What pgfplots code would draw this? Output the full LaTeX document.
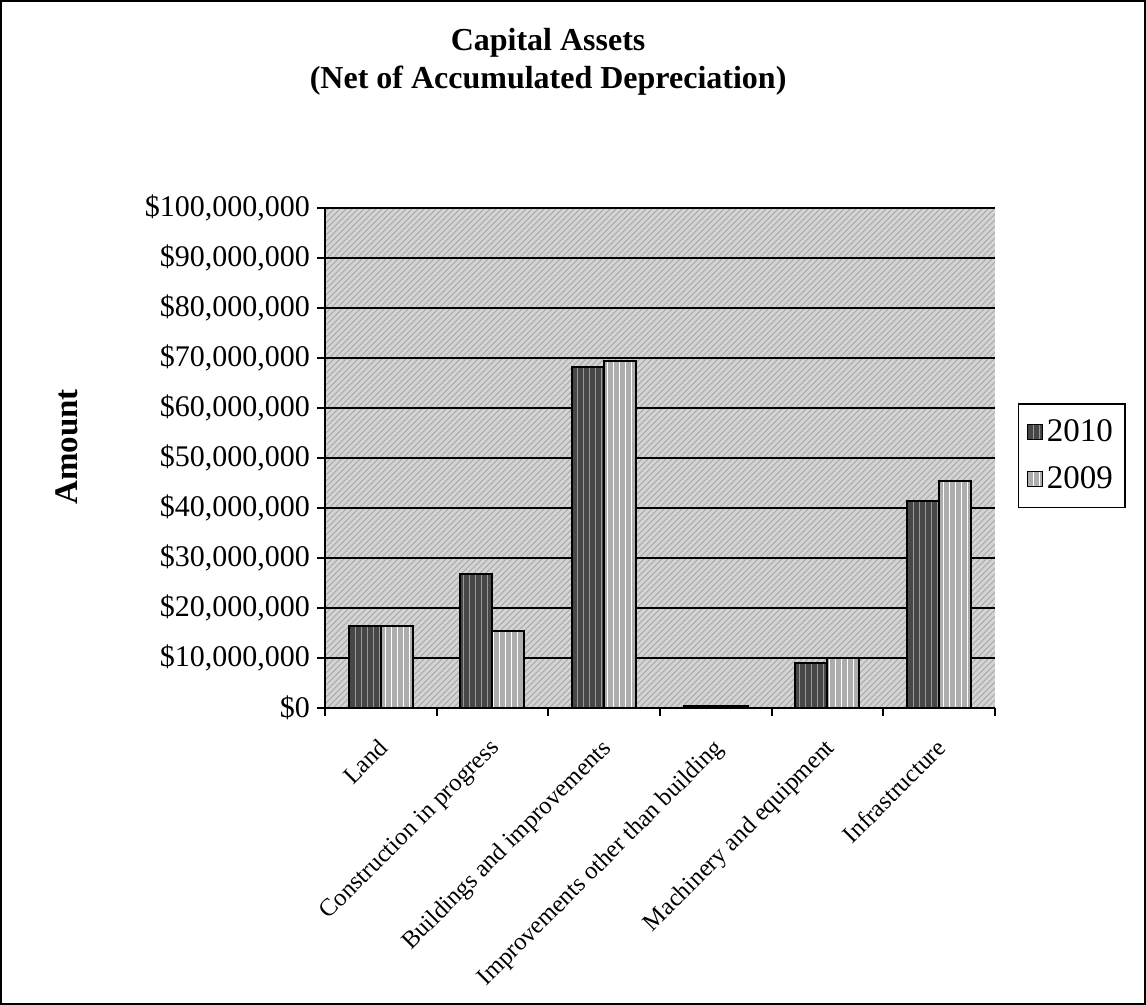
\documentclass[border=0pt]{standalone}
\usepackage{fontspec}
\setmainfont{Liberation Serif}
\usepackage{pgfplots}
\pgfplotsset{compat=1.18}
\usetikzlibrary{patterns}

\pgfplotstableread{
idx y2010 y2009
0 16.3 16.3
1 26.8 15.4
2 68.2 69.3
3 0.4 0.35
4 9.0 9.9
5 41.4 45.4
}\assets

\begin{document}
\begin{tikzpicture}
\useasboundingbox (0,0) rectangle (573pt,502.5pt);
\draw[line width=1pt] (0.5pt,0.5pt) rectangle (572.5pt,502pt);
\begin{axis}[
  at={(162.5pt,148.5pt)}, anchor=south west,
  scale only axis, width=335pt, height=250pt,
  xmin=-0.5, xmax=5.5, ymin=0, ymax=100,
  ybar=0pt, bar width=16pt,
  axis x line*=bottom, axis y line*=left,
  axis line style={-, line width=1pt, black},
  axis background/.style={fill=black!17, postaction={pattern=north east lines, pattern color=black!35}},
  tick align=outside,
  xtick={0,...,5},
  major x tick style={draw=none},
  minor xtick={-0.5,0.5,...,5.5},
  minor tick length=4pt, major tick length=4pt,
  tick style={black, line width=1pt},
  xticklabels={Land, Construction in progress, Buildings and improvements, Improvements other than building, Machinery and equipment, Infrastructure},
  xticklabel style={yshift=-9pt, xshift=-2pt, rotate=45, anchor=north east, font=\fontsize{12.3}{14}\selectfont, inner sep=1pt},
  ytick={0,10,...,100},
  yticklabels={{\$0},{\$10,000,000},{\$20,000,000},{\$30,000,000},{\$40,000,000},{\$50,000,000},{\$60,000,000},{\$70,000,000},{\$80,000,000},{\$90,000,000},{\$100,000,000}},
  yticklabel style={font=\fontsize{15}{18}\selectfont},
  ymajorgrids, major grid style={black, line width=0.9pt},
  ylabel={Amount},
  ylabel style={at={(axis description cs:-0.385,0.522)}, anchor=center, font=\bfseries\fontsize{16.5}{19}\selectfont},
  title={Capital Assets\\(Net of Accumulated Depreciation)},
  title style={at={(axis description cs:0.333,1.268)}, anchor=center, align=center, font=\bfseries\fontsize{16}{18.8}\selectfont},
  legend style={at={(axis description cs:1.034,0.61)}, anchor=north west, draw=black, line width=0.8pt, font=\fontsize{16.5}{19}\selectfont, row sep=7pt, inner xsep=4pt, inner ysep=6pt},
  legend cell align=left,
  legend image code/.code={\draw[#1, line width=0.6pt] (0pt,-3.8pt) rectangle (7.6pt,3.8pt);},
]
\addplot[draw=black, line width=1pt, fill=black!72, postaction={pattern=vertical lines, pattern color=black!40}] table[x=idx, y=y2010] {\assets};
\addplot[draw=black, line width=1pt, fill=black!32, postaction={pattern=vertical lines, pattern color=white}] table[x=idx, y=y2009] {\assets};
\legend{2010, 2009}
\end{axis}
\end{tikzpicture}
\end{document}
